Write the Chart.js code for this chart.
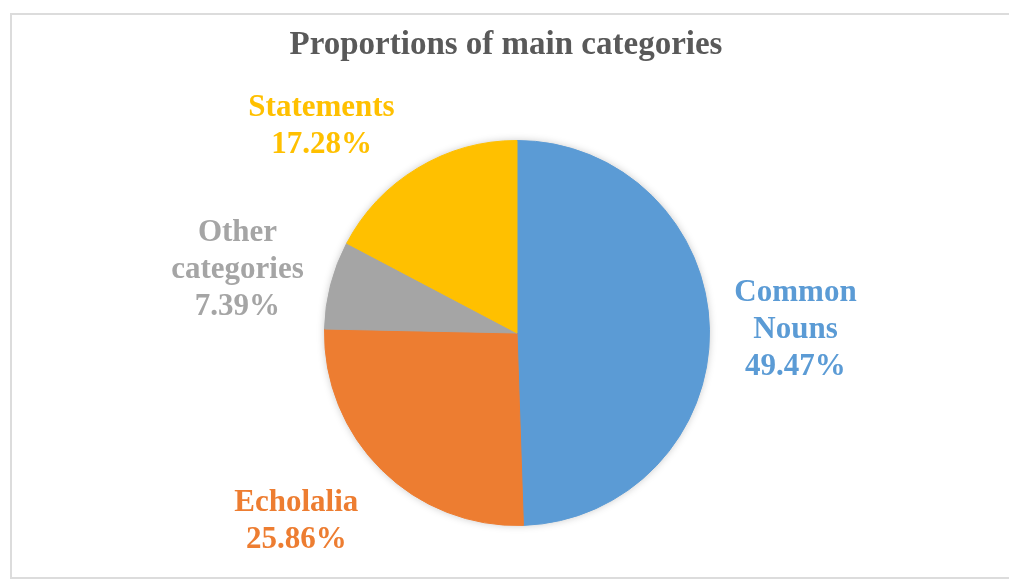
<!DOCTYPE html>
<html>
<head>
<meta charset="utf-8">
<script src="https://cdn.jsdelivr.net/npm/chart.js@4/dist/chart.umd.min.js"></script>
<style>
  html, body { margin: 0; padding: 0; background: #fff; overflow: hidden; }
  #wrap { position: relative; width: 1009px; height: 582px; overflow: hidden; }
  #frame { position: absolute; left: 10px; top: 13px; width: 1040px; height: 566px;
           border: 2px solid #dcdcdc; box-sizing: border-box; pointer-events: none; }
  canvas { position: absolute; left: 0; top: 0; }
</style>
</head>
<body>
<div id="wrap">
  <div id="frame"></div>
  <canvas id="pie" width="1009" height="582"></canvas>
</div>
<script>
// --- Data ---
const categories = ['Common Nouns', 'Echolalia', 'Other categories', 'Statements'];
const shares = [49.47, 25.86, 7.39, 17.28];
const sliceColours = ['#5B9BD5', '#ED7D31', '#A5A5A5', '#FFC000'];
const chartTitle = 'Proportions of main categories';

const FONT = '"Liberation Serif", "Times New Roman", serif';

// soft halo behind the pie, title and outside labels
const pieDecor = {
  id: 'pieDecor',
  beforeDatasetsDraw(chart) {
    const arc = chart.getDatasetMeta(0).data[0];
    if (!arc) return;
    const { x, y, outerRadius } = arc.getProps(['x', 'y', 'outerRadius'], true);
    const ctx = chart.ctx;
    ctx.save();
    ctx.shadowColor = 'rgba(0,0,0,0.28)';
    ctx.shadowBlur = 9;
    ctx.fillStyle = '#ffffff';
    ctx.beginPath();
    ctx.arc(x, y, outerRadius - 1, 0, Math.PI * 2);
    ctx.fill();
    ctx.restore();
  },
  afterDatasetsDraw(chart, args, opts) {
    const ctx = chart.ctx;
    const meta = chart.getDatasetMeta(0);
    ctx.save();
    ctx.textAlign = 'center';
    ctx.textBaseline = 'middle';

    // title
    ctx.font = 'bold 33px ' + FONT;
    ctx.fillStyle = '#595959';
    ctx.fillText(chartTitle, opts.titleX, opts.titleY);

    // labels outside each slice
    ctx.font = 'bold 31px ' + FONT;
    meta.data.forEach((arc, i) => {
      const { x, y, startAngle, endAngle, outerRadius } =
        arc.getProps(['x', 'y', 'startAngle', 'endAngle', 'outerRadius'], true);
      const a = (startAngle + endAngle) / 2 + opts.turn[i] * Math.PI / 180;
      const r = outerRadius + opts.extra[i];
      const cx = x + Math.cos(a) * r;
      const cy = y + Math.sin(a) * r;
      const words = categories[i].split(' ');
      const lines = words.concat([shares[i].toFixed(2) + '%']);
      const lh = opts.lineHeight;
      const top = cy - (lines.length - 1) * lh / 2;
      ctx.fillStyle = sliceColours[i];
      lines.forEach((t, k) => ctx.fillText(t, cx, top + k * lh));
    });
    ctx.restore();
  }
};

const ctx = document.getElementById('pie').getContext('2d');
new Chart(ctx, {
  type: 'pie',
  data: {
    labels: categories,
    datasets: [{
      data: shares,
      backgroundColor: sliceColours,
      borderColor: sliceColours,
      borderWidth: 1,
      hoverOffset: 0
    }]
  },
  options: {
    responsive: false,
    animation: false,
    layout: { padding: { left: 324, right: 299, top: 140, bottom: 56 } },
    plugins: {
      legend: { display: false },
      title: { display: false },
      tooltip: { enabled: false },
      pieDecor: {
        titleX: 506,
        titleY: 45,
        lineHeight: 37,
        extra: [86, 98, 94, 92],
        turn: [0.4, 4.8, -1.8, -12.3]
      }
    }
  },
  plugins: [pieDecor]
});
</script>
</body>
</html>
